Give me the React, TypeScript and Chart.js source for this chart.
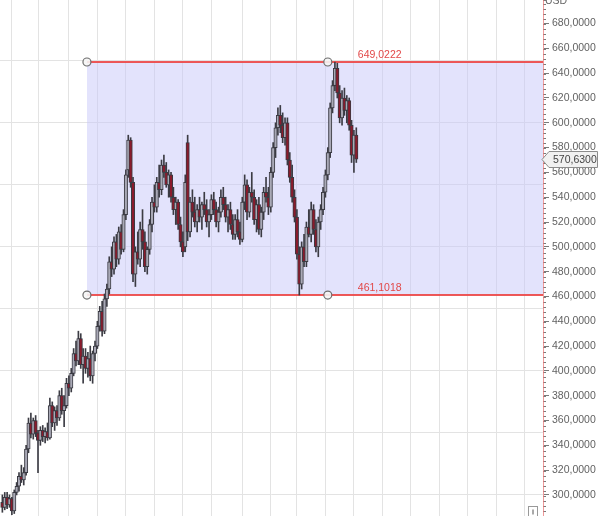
import React, { useEffect, useRef } from 'react';
import { Chart, registerables } from 'chart.js';

Chart.register(...registerables);

// ---- data ----
const opens = [294,290,298,292,297,287,302,307,315,312, 318,337,358,349,360,350,344,352,347,351, 346,372,358,368,362,380,368,372,390,386, 398,414,408,426,405,412,402,410,396,414, 420,436,448,432,458,466,488,482,504,490, 512,498,526,562,586,552,478,496,490,514, 504,484,498,518,536,532,552,546,566,560, 550,558,540,530,536,518,504,500,584,512, 536,528,520,530,524,534,530,520,526,538, 530,520,528,540,534,524,530,518,510,522, 512,506,536,550,528,544,540,522,534,514, 528,544,540,532,560,580,596,606,598,588, 600,570,556,540,524,494,470,500,488,516, 510,530,514,500,520,530,544,558,576,612, 630,644,624,604,620,610,618,598,574,590];
const highs = [300,302,302,300,298,304,310,318,324,322, 340,362,366,362,364,352,355,356,354,358, 378,375,371,372,384,386,380,394,396,402, 418,424,432,430,418,418,415,420,416,424, 440,452,456,462,470,492,500,508,510,516, 518,530,562,590,588,556,500,512,520,530, 512,500,522,540,550,556,566,570,574,568, 562,560,548,540,538,524,512,558,590,540, 546,540,534,540,536,544,538,530,542,544, 536,532,546,548,540,534,536,526,526,530, 520,540,558,554,548,560,546,538,540,532, 548,556,548,564,584,600,612,614,608,604, 604,576,566,546,530,500,504,510,520,530, 536,534,522,524,534,548,562,580,616,634, 649.02,648,630,626,628,622,620,602,594,596];
const lows = [286,288,289,290,284,285,300,303,310,308, 316,334,346,345,347,318,340,343,342,344, 345,355,352,356,360,365,355,370,380,383, 396,404,405,402,390,398,395,392,390,408, 418,432,428,430,452,462,476,478,484,486, 494,496,522,556,548,472,468,486,484,498, 480,478,494,512,528,528,540,542,556,548, 540,536,526,518,514,500,492,496,505,508, 524,516,512,520,514,526,516,508,522,526, 516,512,524,530,520,512,514,506,506,508, 502,504,530,522,524,536,518,512,510,508, 522,536,526,528,556,572,590,592,584,582, 566,552,536,520,490,461.1,466,484,484,508, 504,510,496,492,514,526,540,554,572,608, 626,620,600,598,606,600,594,568,560,568];
const closes = [290,298,292,297,287,302,307,315,312,318, 337,358,349,360,350,344,352,347,351,346, 372,358,368,362,380,368,372,390,386,398, 414,408,426,405,412,402,410,396,414,420, 436,448,432,458,466,488,482,504,490,512, 498,526,558,586,552,478,496,490,514,504, 484,498,518,536,532,552,546,566,560,550, 558,540,530,536,518,504,496,552,512,536, 528,520,530,524,534,530,520,526,538,530, 520,528,540,534,524,530,518,510,522,512, 506,536,550,528,544,540,522,534,514,528, 544,540,532,560,580,596,606,598,588,600, 570,556,540,524,494,470,500,488,516,510, 530,514,500,520,530,544,558,576,612,630, 644,624,604,620,610,618,598,574,590,570.63];

const yTickLabels = [300,320,340,360,380,400,420,440,460,480,500,520,540,560,580,600,620,640,660,680];
const yGridValues = [300,350,400,450,500,550,600,650];
const xGridValues = [4,15,28,40,52,64,76,88,101,113,124,136,148,160,172,184,196,208,220];
const upperLevel = 649.0222;
const lowerLevel = 461.1018;
const anchorStart = 35.6;
const anchorEnd = 137;
const xMin = -1;
const xMax = 227.6;
const yMin = 283;
const yMax = 699;
const currency = 'USD';

const FONT = '"Liberation Sans", Arial, sans-serif';
const fmt = (v: number) => v.toFixed(4).replace('.', ',');

const overlayPlugin = {
  id: 'overlay',
  afterDraw(chart: any) {
    const { ctx, chartArea, scales } = chart;
    const xs = scales.x;
    const ys = scales.y;
    ctx.save();
    // level labels
    ctx.font = `10.5px ${FONT}`;
    ctx.fillStyle = 'rgb(226,72,72)';
    ctx.textAlign = 'left';
    ctx.textBaseline = 'bottom';
    const lx = xs.getPixelForValue(anchorEnd) + 30;
    [upperLevel, lowerLevel].forEach((v) => ctx.fillText(fmt(v), lx, ys.getPixelForValue(v) - 2));
    // currency
    ctx.fillStyle = '#666';
    ctx.textBaseline = 'alphabetic';
    ctx.fillText(currency, chartArea.right + 2, 4);
    // last price tag
    const last = closes[closes.length - 1];
    const py = Math.round(ys.getPixelForValue(last)) + 0.5;
    const x0 = chartArea.right;
    ctx.beginPath();
    ctx.moveTo(x0 - 1, py);
    ctx.lineTo(x0 + 6, py - 8);
    ctx.lineTo(x0 + 54.5, py - 8);
    ctx.lineTo(x0 + 54.5, py + 8);
    ctx.lineTo(x0 + 6, py + 8);
    ctx.closePath();
    ctx.fillStyle = '#f1f1f1';
    ctx.fill();
    ctx.strokeStyle = '#8c8c8c';
    ctx.lineWidth = 1;
    ctx.stroke();
    ctx.fillStyle = '#444';
    ctx.textBaseline = 'middle';
    ctx.fillText(fmt(last), x0 + 10, py + 0.5);
    // small scroll box at bottom right
    const bx = chartArea.right - 14.5;
    const by = chartArea.bottom - 9.5;
    ctx.fillStyle = '#fff';
    ctx.fillRect(bx, by, 9, 10);
    ctx.strokeStyle = '#999';
    ctx.strokeRect(bx, by, 9, 10);
    ctx.beginPath();
    ctx.moveTo(bx + 4.5, by + 3);
    ctx.lineTo(bx + 4.5, by + 8);
    ctx.strokeStyle = '#555';
    ctx.stroke();
    ctx.restore();
  },
};

export default function App() {
  const ref = useRef<HTMLCanvasElement>(null);

  useEffect(() => {
    if (!ref.current) return;
    const idx = closes.map((_, i) => i);
    const wickData = idx.map((i) => ({ x: i, y: [lows[i], highs[i]] }));
    const bodyData = idx.map((i) => ({ x: i, y: [opens[i], closes[i]] }));
    const bodyColors = idx.map((i) => (closes[i] >= opens[i] ? '#a9a9b6' : '#8a1b2c'));

    const noPad = (s: any) => {
      s.paddingTop = 0;
      s.paddingBottom = 0;
      s.paddingLeft = 0;
      s.paddingRight = 0;
    };

    const chart = new Chart(ref.current, {
      type: 'bar',
      data: {
        datasets: [
          {
            type: 'line',
            data: [
              { x: anchorStart, y: upperLevel },
              { x: anchorEnd, y: upperLevel },
              { x: xMax, y: upperLevel },
            ],
            borderColor: 'rgba(236,70,70,0.9)',
            borderWidth: 2,
            pointRadius: [4, 4, 0],
            pointBackgroundColor: 'rgba(245,245,245,0.9)',
            pointBorderColor: '#6e6e6e',
            pointBorderWidth: 1.2,
            fill: '+1',
            backgroundColor: 'rgba(200,200,250,0.5)',
            order: 4,
          } as any,
          {
            type: 'line',
            data: [
              { x: anchorStart, y: lowerLevel },
              { x: anchorEnd, y: lowerLevel },
              { x: xMax, y: lowerLevel },
            ],
            borderColor: 'rgba(236,70,70,0.9)',
            borderWidth: 2,
            pointRadius: [4, 4, 0],
            pointBackgroundColor: 'rgba(245,245,245,0.9)',
            pointBorderColor: '#6e6e6e',
            pointBorderWidth: 1.2,
            fill: false,
            order: 3,
          } as any,
          {
            type: 'bar',
            data: wickData,
            backgroundColor: '#3c3c44',
            barThickness: 1,
            grouped: false,
            order: 2,
          } as any,
          {
            type: 'bar',
            data: bodyData,
            backgroundColor: bodyColors,
            borderColor: '#3a3a42',
            borderWidth: 1,
            borderSkipped: false,
            barThickness: 3.4,
            grouped: false,
            order: 1,
          } as any,
        ],
      },
      options: {
        animation: false,
        responsive: false,
        events: [],
        layout: { padding: 0, autoPadding: false },
        plugins: { legend: { display: false }, tooltip: { enabled: false } },
        scales: {
          x: {
            type: 'linear',
            min: xMin,
            max: xMax,
            offset: false,
            afterBuildTicks: (s: any) => {
              s.ticks = xGridValues.map((v) => ({ value: v }));
            },
            afterFit: (s: any) => {
              s.height = 0;
              noPad(s);
            },
            grid: { color: '#e3e3e3', lineWidth: 1, drawTicks: false, offset: false },
            border: { display: false },
            ticks: { display: false },
          },
          yMinor: {
            type: 'linear',
            position: 'right',
            weight: -2,
            min: yMin,
            max: yMax,
            ticks: { display: false, stepSize: 4 },
            grid: { drawOnChartArea: false, drawTicks: true, tickLength: 3, tickColor: '#7a7a7a' },
            border: { display: false },
            afterFit: (s: any) => {
              s.width = 0;
              noPad(s);
            },
          },
          yGrid: {
            type: 'linear',
            position: 'right',
            weight: -1,
            min: yMin,
            max: yMax,
            afterBuildTicks: (s: any) => {
              s.ticks = yGridValues.map((v) => ({ value: v }));
            },
            ticks: { display: false },
            grid: { color: '#e3e3e3', drawTicks: false },
            border: { display: false },
            afterFit: (s: any) => {
              s.width = 0;
              noPad(s);
            },
          },
          y: {
            type: 'linear',
            position: 'right',
            weight: 0,
            min: yMin,
            max: yMax,
            afterBuildTicks: (s: any) => {
              s.ticks = yTickLabels.map((v) => ({ value: v }));
            },
            afterFit: (s: any) => {
              s.width = 61;
              noPad(s);
            },
            grid: { drawOnChartArea: false, drawTicks: true, tickLength: 6, tickColor: '#7a7a7a' },
            border: { display: true, color: 'rgba(232,120,120,0.75)', width: 1 },
            ticks: {
              padding: 3,
              color: '#626262',
              font: { family: FONT, size: 10.5 },
              callback: (v: any) => fmt(Number(v)),
            },
          },
        },
      },
      plugins: [overlayPlugin],
    });
    return () => chart.destroy();
  }, []);

  return (
    <div style={{ position: 'fixed', left: 0, top: 0, width: 604, height: 516, background: '#fff' }}>
      <canvas ref={ref} width={604} height={516} style={{ display: 'block' }} />
    </div>
  );
}
